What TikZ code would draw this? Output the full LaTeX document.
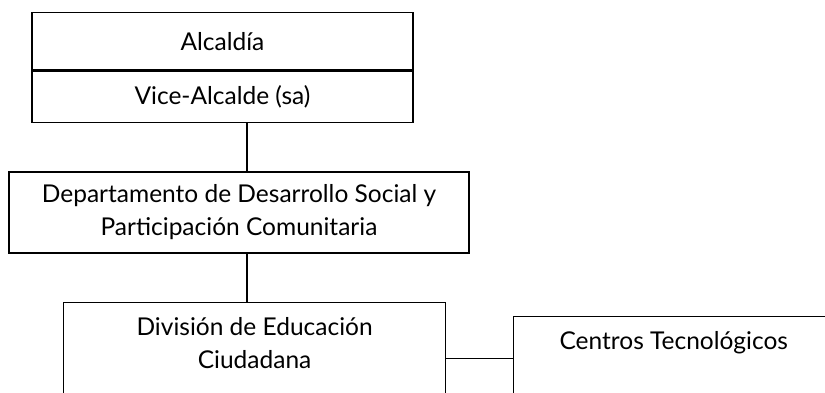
\documentclass[tikz,border=0pt]{standalone}
\usepackage{fontspec}
\setmainfont{Lato}
\usepackage{tikz}
\usetikzlibrary{positioning, calc}

\begin{document}
\begin{tikzpicture}[
    x=1pt, y=-1pt,
    font=\fontsize{24.5}{33}\selectfont,
    unit/.style={
        draw, line width=1.2pt, align=center, fill=white, inner sep=0pt
    },
    link/.style={line width=1.2pt}
]

% PAGE
\useasboundingbox (0,0) rectangle (825,392);
\clip (0,0) rectangle (825,392);

% TOP BOX
\node[unit, minimum width=381pt, minimum height=57.7pt] (alcaldia) at (222.5,41.2) {Alcaldía};
\node[unit, minimum width=381pt, minimum height=51pt, anchor=north] (vice) at (alcaldia.south) {Vice-Alcalde (sa)};

% DEPARTMENT
\node[unit, minimum width=460pt, minimum height=81pt] (dept) at (239,212.5) {Departamento de Desarrollo Social y\\Participación Comunitaria};

% DIVISION AND CENTRES (cut by the page edge)
\node[unit, minimum width=382pt, text depth=80pt, inner ysep=15pt, anchor=north] (division) at (254.6,301.7) {División de Educación\\Ciudadana};
\node[unit, minimum width=321pt, text depth=80pt, inner ysep=15pt, anchor=north] (centros) at (673.8,315.7) {Centros Tecnológicos};

% CONNECTORS
\coordinate (spine) at (247,0);
\coordinate (bridge) at (0,358.3);
\draw[link] (vice.south -| spine) -- (dept.north -| spine);
\draw[link] (dept.south -| spine) -- (division.north -| spine);
\draw[link] (division.east |- bridge) -- (centros.west |- bridge);

\end{tikzpicture}
\end{document}
